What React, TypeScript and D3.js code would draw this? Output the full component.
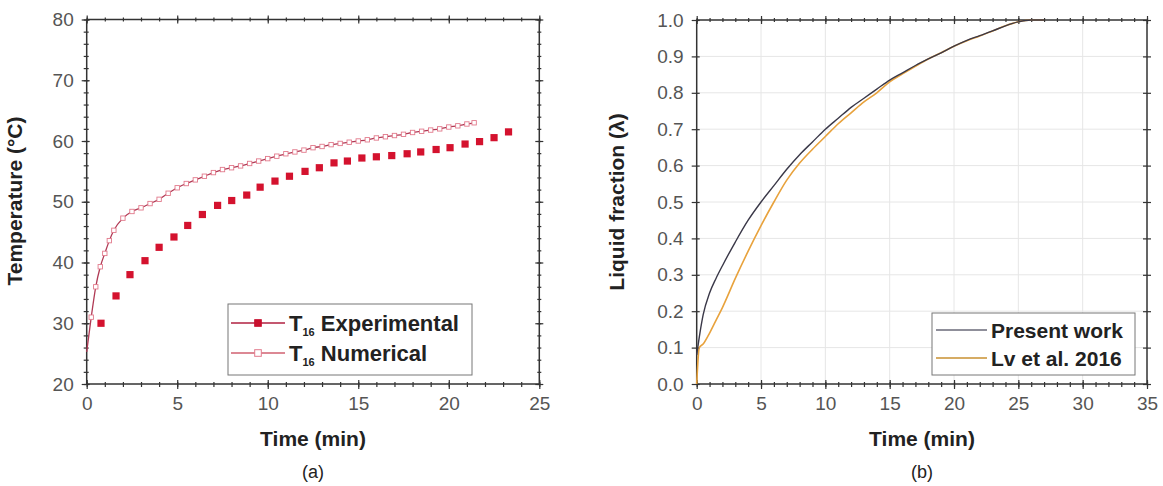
import React, { useEffect, useRef } from "react";
import * as d3 from "d3";

// panel (a) - T16 experimental (filled squares)
const expTime = [0.79, 1.62, 2.39, 3.22, 4.0, 4.82, 5.58, 6.39, 7.23, 8.01, 8.84, 9.58, 10.4, 11.2, 12.06, 12.85, 13.66, 14.4, 15.2, 16.0, 16.85, 17.7, 18.45, 19.3, 20.07, 20.9, 21.7, 22.5, 23.3];
const expTemp = [30.0, 34.5, 38.0, 40.3, 42.5, 44.2, 46.1, 47.9, 49.4, 50.2, 51.1, 52.4, 53.4, 54.2, 55.0, 55.6, 56.4, 56.7, 57.2, 57.4, 57.6, 57.9, 58.2, 58.6, 58.9, 59.5, 59.9, 60.55, 61.5];

// panel (a) - T16 numerical (line + open squares)
const numTime = [0, 0.25, 0.5, 0.75, 1.0, 1.25, 1.5, 2.0, 2.5, 3.0, 3.5, 4.0, 4.5, 5.0, 5.5, 6.0, 6.5, 7.0, 7.5, 8.0, 8.5, 9.0, 9.5, 10.0, 10.5, 11.0, 11.5, 12.0, 12.5, 13.0, 13.5, 14.0, 14.5, 15.0, 15.5, 16.0, 16.5, 17.0, 17.5, 18.0, 18.5, 19.0, 19.5, 20.0, 20.5, 21.0, 21.4];
const numTemp = [25.3, 31, 36, 39.3, 41.5, 43.6, 45.3, 47.3, 48.4, 49.0, 49.7, 50.4, 51.4, 52.3, 53.0, 53.6, 54.2, 54.8, 55.3, 55.6, 55.9, 56.3, 56.7, 57.1, 57.5, 57.9, 58.2, 58.5, 58.9, 59.1, 59.4, 59.6, 59.8, 60.0, 60.2, 60.5, 60.7, 60.9, 61.1, 61.4, 61.6, 61.8, 62.0, 62.3, 62.5, 62.8, 63.0];

// panel (b) - liquid fraction
const presentTime = [0, 0.25, 0.5, 1, 1.5, 2, 3, 4, 5, 6, 7, 8, 9, 10, 11, 12, 13, 14, 15, 16, 17, 18, 19, 20, 21, 22, 23, 24, 25, 26, 27];
const presentFrac = [0.08, 0.14, 0.19, 0.25, 0.29, 0.325, 0.39, 0.45, 0.5, 0.545, 0.59, 0.63, 0.665, 0.7, 0.73, 0.76, 0.785, 0.81, 0.835, 0.855, 0.875, 0.893, 0.91, 0.928, 0.944, 0.957, 0.97, 0.984, 0.995, 1.0, 1.0];
const lvTime = [0, 0.2, 0.5, 1, 1.5, 2, 3, 4, 5, 6, 7, 8, 9, 10, 11, 12, 13, 14, 15, 16, 17, 18, 19, 20, 21, 22, 23, 24, 25, 26, 27];
const lvFrac = [0.0, 0.1, 0.11, 0.14, 0.175, 0.21, 0.29, 0.365, 0.435, 0.5, 0.56, 0.607, 0.645, 0.68, 0.715, 0.745, 0.775, 0.8, 0.83, 0.852, 0.873, 0.893, 0.91, 0.928, 0.943, 0.956, 0.97, 0.984, 0.995, 1.0, 1.0];

const FONT = "'Liberation Sans', Arial, sans-serif";

export default function App() {
  const ref = useRef<SVGSVGElement>(null);

  useEffect(() => {
    document.body.style.margin = "0";
    const svg = d3.select(ref.current);
    svg.selectAll("*").remove();

    // generic axis frame helper
    const frame = (
      x: d3.ScaleLinear<number, number>,
      y: d3.ScaleLinear<number, number>,
      xMajor: number[], xMinor: number[],
      yMajor: number[], yMinor: number[],
      yFmt: (d: number) => string,
      grid: boolean
    ) => {
      const [x0, x1] = x.range();
      const [y0, y1] = y.range(); // y0 bottom, y1 top
      const g = svg.append("g");

      if (grid) {
        g.append("g").selectAll("line").data(xMajor.slice(1, -1)).join("line")
          .attr("x1", (d) => x(d)).attr("x2", (d) => x(d))
          .attr("y1", y0).attr("y2", y1)
          .attr("stroke", "#e6e6e6").attr("stroke-width", 1);
        g.append("g").selectAll("line").data(yMajor.slice(1, -1)).join("line")
          .attr("y1", (d) => y(d)).attr("y2", (d) => y(d))
          .attr("x1", x0).attr("x2", x1)
          .attr("stroke", "#e6e6e6").attr("stroke-width", 1);
      }

      const styleAxis = (sel: d3.Selection<SVGGElement, unknown, null, undefined>) => {
        sel.select(".domain").remove();
        sel.selectAll(".tick line").attr("stroke", "#333").attr("stroke-width", 1.2);
        sel.selectAll(".tick text")
          .attr("fill", "#555").style("font-family", FONT).style("font-size", "19px");
      };

      // bottom
      const bottom = g.append("g").attr("transform", `translate(0,${y0})`)
        .call(d3.axisBottom(x).tickValues(xMajor).tickSize(5).tickPadding(8).tickFormat(d3.format("d")));
      styleAxis(bottom);
      bottom.selectAll(".tick line").attr("y1", -4);
      const bottomMin = g.append("g").attr("transform", `translate(0,${y0})`)
        .call(d3.axisBottom(x).tickValues(xMinor).tickSize(3).tickFormat(() => ""));
      styleAxis(bottomMin);
      bottomMin.selectAll(".tick line").attr("y1", -2);

      // top
      const top = g.append("g").attr("transform", `translate(0,${y1})`)
        .call(d3.axisTop(x).tickValues(xMajor).tickSize(4).tickFormat(() => ""));
      styleAxis(top);
      top.selectAll(".tick line").attr("y1", 4);
      const topMin = g.append("g").attr("transform", `translate(0,${y1})`)
        .call(d3.axisTop(x).tickValues(xMinor).tickSize(2).tickFormat(() => ""));
      styleAxis(topMin);
      topMin.selectAll(".tick line").attr("y1", 2);

      // left
      const left = g.append("g").attr("transform", `translate(${x0},0)`)
        .call(d3.axisLeft(y).tickValues(yMajor).tickSize(5).tickPadding(8).tickFormat((d) => yFmt(d as number)));
      styleAxis(left);
      left.selectAll(".tick line").attr("x1", 3);
      const leftMin = g.append("g").attr("transform", `translate(${x0},0)`)
        .call(d3.axisLeft(y).tickValues(yMinor).tickSize(3).tickFormat(() => ""));
      styleAxis(leftMin);
      leftMin.selectAll(".tick line").attr("x1", 2);

      // right
      const right = g.append("g").attr("transform", `translate(${x1},0)`)
        .call(d3.axisRight(y).tickValues(yMajor).tickSize(4).tickFormat(() => ""));
      styleAxis(right);
      right.selectAll(".tick line").attr("x1", -4);
      const rightMin = g.append("g").attr("transform", `translate(${x1},0)`)
        .call(d3.axisRight(y).tickValues(yMinor).tickSize(2).tickFormat(() => ""));
      styleAxis(rightMin);
      rightMin.selectAll(".tick line").attr("x1", -2);

      // frame box
      g.append("rect")
        .attr("x", x0).attr("y", y1).attr("width", x1 - x0).attr("height", y0 - y1)
        .attr("fill", "none").attr("stroke", "#333").attr("stroke-width", 1.5);
      return g;
    };

    const title = (x: number, y: number, txt: string, rot = false, bold = true, size = 21) => {
      svg.append("text")
        .attr("transform", rot ? `translate(${x},${y}) rotate(-90)` : `translate(${x},${y})`)
        .attr("text-anchor", "middle")
        .style("font-family", FONT).style("font-size", `${size}px`)
        .style("font-weight", bold ? "bold" : "normal")
        .attr("fill", "#222")
        .text(txt);
    };

    // ---------- panel (a) ----------
    const xa = d3.scaleLinear().domain([0, 25]).range([86.7, 539.3]);
    const ya = d3.scaleLinear().domain([20, 80]).range([384, 19.5]);
    frame(xa, ya, d3.range(0, 26, 5), d3.range(0, 26, 1), d3.range(20, 81, 10), d3.range(20, 81, 2), (d) => d3.format("d")(d), false);

    const numData = numTime.map((t, i) => ({ t, v: numTemp[i] }));
    const expData = expTime.map((t, i) => ({ t, v: expTemp[i] }));

    svg.append("path")
      .datum(numData)
      .attr("d", d3.line<{ t: number; v: number }>().x((d) => xa(d.t)).y((d) => ya(d.v)).curve(d3.curveMonotoneX))
      .attr("fill", "none").attr("stroke", "#b03a55").attr("stroke-width", 1.3);
    svg.append("g").selectAll("rect").data(numData.slice(1)).join("rect")
      .attr("x", (d) => xa(d.t) - 2.2).attr("y", (d) => ya(d.v) - 2.2)
      .attr("width", 4.4).attr("height", 4.4)
      .attr("fill", "#fff").attr("stroke", "#e27a8c").attr("stroke-width", 0.9);

    svg.append("g").selectAll("rect").data(expData).join("rect")
      .attr("x", (d) => xa(d.t) - 3.6).attr("y", (d) => ya(d.v) - 3.6)
      .attr("width", 7.2).attr("height", 7.2)
      .attr("fill", "#d4122e");

    // legend (a)
    const lga = svg.append("g");
    lga.append("rect").attr("x", 228).attr("y", 304).attr("width", 244).attr("height", 71)
      .attr("fill", "#fff").attr("stroke", "#777").attr("stroke-width", 1);
    const legA = [
      { label: "Experimental", y: 323, line: "#b02040", fill: "#c8102e", stroke: "#c8102e" },
      { label: "Numerical", y: 353, line: "#d06070", fill: "#fff", stroke: "#e27a8c" },
    ];
    legA.forEach((e) => {
      lga.append("line").attr("x1", 231).attr("x2", 285).attr("y1", e.y).attr("y2", e.y)
        .attr("stroke", e.line).attr("stroke-width", 1.3);
      lga.append("rect").attr("x", 258 - 3.3).attr("y", e.y - 3.3).attr("width", 6.6).attr("height", 6.6)
        .attr("fill", e.fill).attr("stroke", e.stroke).attr("stroke-width", 1);
      const t = lga.append("text").attr("x", 289).attr("y", e.y + 8)
        .style("font-family", FONT).style("font-size", "22px").style("font-weight", "bold").attr("fill", "#222");
      t.append("tspan").text("T");
      t.append("tspan").attr("dy", 5).style("font-size", "11px").text("16");
      t.append("tspan").attr("dy", -5).text(" " + e.label);
    });

    title(22, 201, "Temperature (°C)", true);
    title(313, 446, "Time (min)");
    title(313, 478, "(a)", false, false, 18);

    // ---------- panel (b) ----------
    const xb = d3.scaleLinear().domain([0, 35]).range([696.7, 1147]);
    const yb = d3.scaleLinear().domain([0, 1]).range([384, 20]);
    frame(xb, yb, d3.range(0, 36, 5), d3.range(0, 36, 1), d3.range(0, 1.01, 0.1), [], (d) => d3.format(".1f")(d), true);

    const presData = presentTime.map((t, i) => ({ t, v: presentFrac[i] }));
    const lvData = lvTime.map((t, i) => ({ t, v: lvFrac[i] }));
    const lineB = d3.line<{ t: number; v: number }>().x((d) => xb(d.t)).y((d) => yb(d.v)).curve(d3.curveMonotoneX);

    svg.append("path").datum(lvData).attr("d", lineB)
      .attr("fill", "none").attr("stroke", "#e8a23c").attr("stroke-width", 1.6);
    svg.append("path").datum(presData).attr("d", lineB)
      .attr("fill", "none").attr("stroke", "#3a3848").attr("stroke-width", 1.4);

    const lgb = svg.append("g");
    lgb.append("rect").attr("x", 932).attr("y", 313).attr("width", 203).attr("height", 62)
      .attr("fill", "#fff").attr("stroke", "#777").attr("stroke-width", 1);
    const legB = [
      { label: "Present work", y: 330, color: "#6a6a78" },
      { label: "Lv et al. 2016", y: 358, color: "#c89030" },
    ];
    legB.forEach((e) => {
      lgb.append("line").attr("x1", 936).attr("x2", 987).attr("y1", e.y).attr("y2", e.y)
        .attr("stroke", e.color).attr("stroke-width", 1.4);
      lgb.append("text").attr("x", 991).attr("y", e.y + 8)
        .style("font-family", FONT).style("font-size", "21px").style("font-weight", "bold").attr("fill", "#222")
        .text(e.label);
    });

    title(624, 202, "Liquid fraction (λ)", true);
    title(922, 446, "Time (min)");
    title(922, 478, "(b)", false, false, 18);
  }, []);

  return (
    <div style={{ width: 1163, height: 486, background: "#fff" }}>
      <svg ref={ref} width={1163} height={486} style={{ display: "block" }}></svg>
    </div>
  );
}
